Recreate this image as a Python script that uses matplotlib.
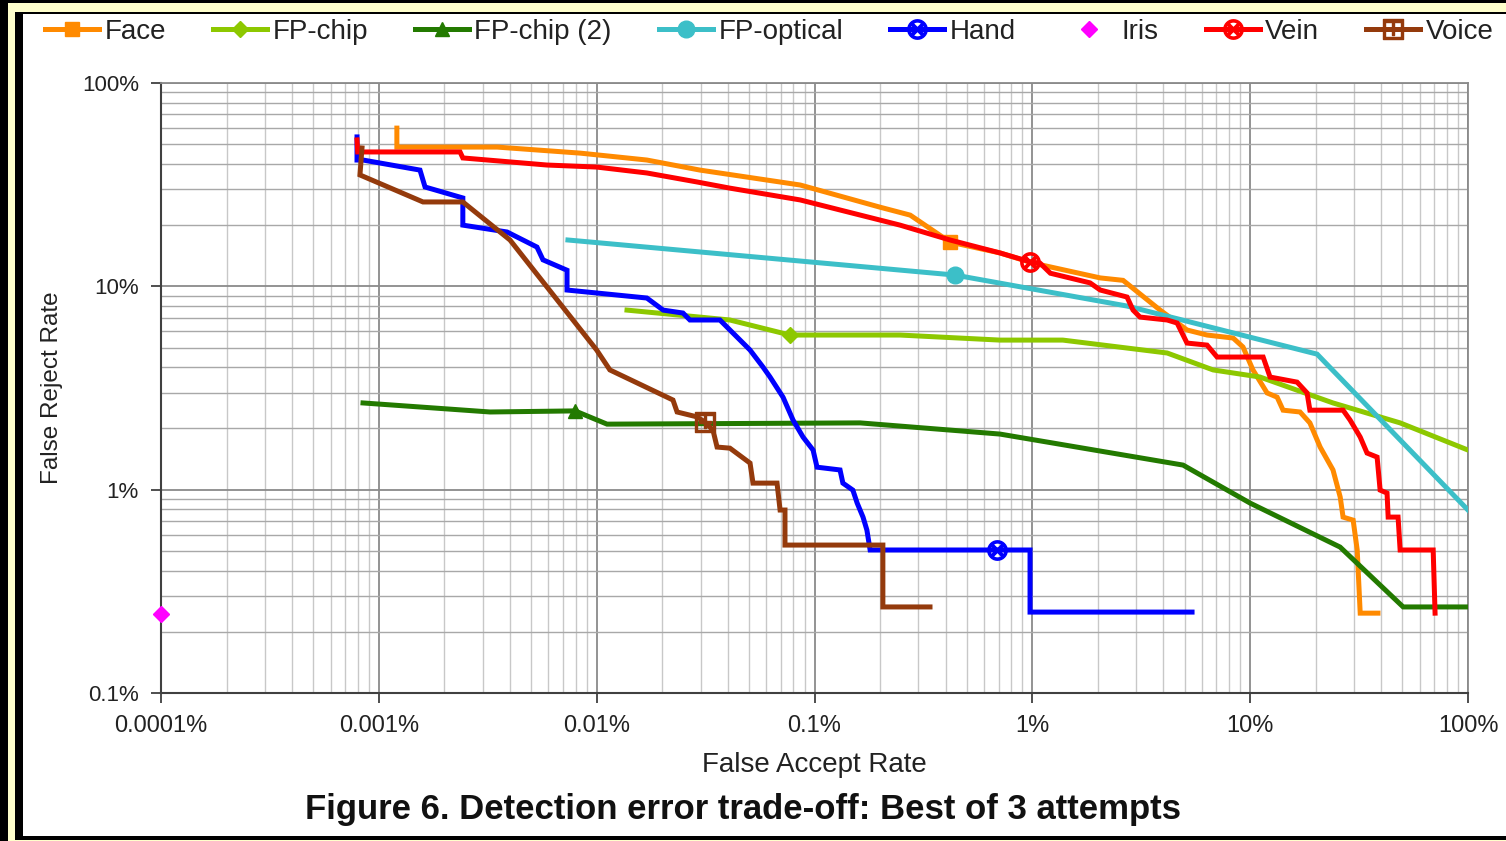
"""Detection error trade-off chart (best of 3 attempts), log-log FAR vs FRR."""
import matplotlib

matplotlib.use("Agg")
import matplotlib.pyplot as plt
from matplotlib.lines import Line2D
from matplotlib.patches import Rectangle
from matplotlib.ticker import FixedLocator, LogLocator, NullFormatter

plt.rcParams["font.family"] = ["Liberation Sans", "DejaVu Sans"]
plt.rcParams["mathtext.fontset"] = "dejavusans"

# values in percent: (false accept rate, false reject rate)
face_far = [1.21e-3, 1.21e-3, 3.49e-3, 8.4e-3, 1.70e-2, 2.98e-2, 8.6e-2, 0.20, 0.275, 0.419,
            0.71, 1.01, 2.05, 2.61, 3.86, 5.13, 6.34, 8.35, 9.27, 10.3, 11.96, 13.3, 14.16,
            16.94, 18.8, 20.95, 24.0, 25.9, 26.7, 29.7, 31.0, 32.0, 38.6]
face_frr = [60.0, 48.4, 48.4, 45.2, 41.8, 37.3, 31.5, 24.5, 22.4, 16.5,
            14.6, 13.0, 11.0, 10.7, 7.64, 6.10, 5.76, 5.57, 5.03, 3.88, 2.99, 2.85, 2.46,
            2.41, 2.13, 1.62, 1.25, 0.92, 0.733, 0.708, 0.505, 0.247, 0.247]

fpchip_far = [1.378e-2, 4.09e-2, 7.72e-2, 0.247, 0.71, 1.38, 4.16, 6.76, 11.1, 24.0, 48.8, 100.0]
fpchip_frr = [7.64, 6.83, 5.76, 5.76, 5.44, 5.44, 4.70, 3.88, 3.58, 2.67, 2.13, 1.566]

fpchip2_far = [8.46e-4, 3.24e-3, 7.96e-3, 1.116e-2, 0.162, 0.71, 4.92, 9.99, 25.87, 50.4, 100.0]
fpchip2_frr = [2.67, 2.41, 2.44, 2.10, 2.13, 1.877, 1.321, 0.859, 0.522, 0.265, 0.265]

optical_far = [7.38e-3, 0.442, 2.72, 20.29, 100.0]
optical_frr = [16.9, 11.36, 8.0, 4.64, 0.794]

hand_far = [7.94e-4, 7.94e-4, 8.46e-4, 1.545e-3, 1.63e-3, 2.43e-3, 2.43e-3, 3.88e-3, 5.32e-3,
            5.67e-3, 7.31e-3, 7.31e-3, 1.70e-2, 2.02e-2, 2.49e-2, 2.68e-2, 3.68e-2, 4.09e-2,
            5.06e-2, 5.80e-2, 6.25e-2, 7.17e-2, 7.97e-2, 8.86e-2, 9.85e-2, 0.1027, 0.131,
            0.135, 0.150, 0.157, 0.167, 0.174, 0.180, 0.689, 0.976, 0.976, 5.41]
hand_frr = [54.3, 41.8, 41.8, 37.3, 30.8, 27.2, 20.0, 18.5, 15.6,
            13.5, 12.0, 9.59, 8.76, 7.64, 7.39, 6.83, 6.83, 6.10,
            4.86, 4.01, 3.58, 2.85, 2.20, 1.814, 1.566, 1.29, 1.25,
            1.077, 0.995, 0.859, 0.733, 0.633, 0.505, 0.505, 0.505, 0.25, 0.25]

iris_far = [1e-4]
iris_frr = [0.244]

vein_far = [7.94e-4, 8.0e-4, 2.36e-3, 2.43e-3, 5.91e-3, 1.0e-2, 1.70e-2, 2.89e-2, 4.09e-2,
            8.6e-2, 0.247, 0.419, 0.71, 0.976, 1.085, 1.21, 1.84, 2.05, 2.72, 2.90, 3.12,
            4.16, 4.62, 5.13, 6.34, 7.05, 11.47, 12.34, 16.42, 18.25, 18.8, 26.7, 28.75,
            32.0, 34.4, 38.26, 39.5, 42.5, 43.0, 47.75, 48.8, 69.2, 70.6]
vein_frr = [52.5, 45.8, 45.8, 42.8, 39.5, 38.6, 36.1, 32.6, 30.4,
            26.6, 20.0, 16.9, 14.6, 13.2, 13.0, 11.6, 10.4, 9.59, 8.86, 7.64, 7.06,
            6.83, 6.60, 5.26, 5.14, 4.49, 4.49, 3.58, 3.38, 2.99, 2.46, 2.46, 2.20,
            1.814, 1.514, 1.446, 0.995, 0.962, 0.733, 0.733, 0.505, 0.505, 0.247]

voice_far = [8.37e-4, 8.19e-4, 1.595e-3, 2.43e-3, 4.0e-3, 1.0e-2, 1.15e-2, 2.24e-2, 2.34e-2,
             2.89e-2, 3.14e-2, 3.42e-2, 3.57e-2, 4.09e-2, 5.06e-2, 5.22e-2, 6.73e-2, 6.95e-2,
             7.32e-2, 7.32e-2, 0.206, 0.206, 0.339]
voice_frr = [47.9, 35.3, 26.0, 26.0, 16.9, 4.86, 3.88, 2.76, 2.41,
             2.28, 2.15, 1.96, 1.62, 1.60, 1.351, 1.077, 1.077, 0.794,
             0.794, 0.534, 0.534, 0.265, 0.265]

x_ticks = [1e-4, 1e-3, 1e-2, 1e-1, 1, 10, 100]
x_labels = ["0.0001%", "0.001%", "0.01%", "0.1%", "1%", "10%", "100%"]
y_ticks = [0.1, 1, 10, 100]
y_labels = ["0.1%", "1%", "10%", "100%"]

# name, x, y, color, marker, marker size, index of the one marker shown
series = [
    ("Face", face_far, face_frr, "#FF8A00", "s", 10, 9),
    ("FP-chip", fpchip_far, fpchip_frr, "#8DC800", "D", 8, 2),
    ("FP-chip (2)", fpchip2_far, fpchip2_frr, "#237A00", "^", 10, 2),
    ("FP-optical", optical_far, optical_frr, "#3CBFC8", "o", 12, 1),
    ("Hand", hand_far, hand_frr, "#0000FF", r"$\otimes$", 14, 33),
    ("Iris", iris_far, iris_frr, "#FF00FF", "D", 8, 0),
    ("Vein", vein_far, vein_frr, "#FF0000", r"$\otimes$", 14, 13),
    ("Voice", voice_far, voice_frr, "#943A0C", r"$\boxplus$", 14, 10),
]

W, H = 1506, 841
fig = plt.figure(figsize=(W / 100, H / 100), dpi=100, facecolor="black")


def frame_rect(x0, y0, x1, y1, color):
    # pixel box measured from the top-left corner of the picture
    fig.add_artist(Rectangle((x0 / W, 1 - y1 / H), (x1 - x0) / W, (y1 - y0) / H,
                             transform=fig.transFigure, facecolor=color,
                             edgecolor="none", zorder=-10))


frame_rect(8, 3, W, H, "#FFFFCC")
frame_rect(15, 12, W, 840, "black")
frame_rect(23, 14, W, 836, "white")

ax = fig.add_axes([161 / W, 1 - 693 / H, (1468 - 161) / W, (693 - 83) / H])
ax.set_xscale("log")
ax.set_yscale("log")
ax.set_xlim(1e-4, 100)
ax.set_ylim(0.1, 100)

handles = []
for name, xs, ys, color, marker, ms, mark_at in series:
    if name == "Iris":
        ax.plot(xs, ys, linestyle="none", marker=marker, ms=ms, color=color,
                clip_on=False, zorder=5)
        handles.append(Line2D([], [], linestyle="none", marker=marker, ms=ms, color=color))
        continue
    ax.plot(xs, ys, color=color, lw=3.6, marker=marker, ms=ms, markevery=[mark_at],
            solid_joinstyle="miter", zorder=4)
    handles.append(Line2D([], [], color=color, lw=3.6, marker=marker, ms=ms))

ax.xaxis.set_major_locator(FixedLocator(x_ticks))
ax.set_xticklabels(x_labels)
ax.yaxis.set_major_locator(FixedLocator(y_ticks))
ax.set_yticklabels(y_labels)
for axis in (ax.xaxis, ax.yaxis):
    axis.set_minor_locator(LogLocator(base=10, subs=range(2, 10), numticks=20))
    axis.set_minor_formatter(NullFormatter())

ax.grid(which="major", color="#8a8a8a", lw=1.3)
ax.grid(which="minor", axis="y", color="#a8a8a8", lw=1.0)
ax.grid(which="minor", axis="x", color="#c8c8c8", lw=1.0)
ax.set_axisbelow(True)

ax.tick_params(which="major", direction="out", length=7, width=1.3, color="#404040",
               labelcolor="#222222")
ax.tick_params(which="minor", length=0)
ax.tick_params(axis="x", labelsize=17, pad=9)
ax.tick_params(axis="y", labelsize=16, pad=9)
for side in ("left", "bottom"):
    ax.spines[side].set_color("#404040")
    ax.spines[side].set_linewidth(1.5)
for side in ("top", "right"):
    ax.spines[side].set_color("#8a8a8a")
    ax.spines[side].set_linewidth(1.3)

ax.set_xlabel("False Accept Rate", fontsize=20, color="#222222")
ax.xaxis.set_label_coords(0.5, -0.096)
ax.set_ylabel("False Reject Rate", fontsize=17.5, color="#222222")
ax.yaxis.set_label_coords(-0.075, 0.5)

fig.legend(handles, [s[0] for s in series], loc="center left",
           bbox_to_anchor=(45 / W, 1 - 32 / H), ncol=8, frameon=False, fontsize=20,
           handlelength=1.95, handletextpad=0.2, columnspacing=1.68, borderpad=0,
           borderaxespad=0, labelcolor="#222222")

fig.text(743 / W, 1 - 810 / H, "Figure 6. Detection error trade-off: Best of 3 attempts",
         ha="center", va="center", fontsize=25, fontweight="bold", color="#111111")

fig.savefig("out.png", dpi=100, facecolor=fig.get_facecolor())
